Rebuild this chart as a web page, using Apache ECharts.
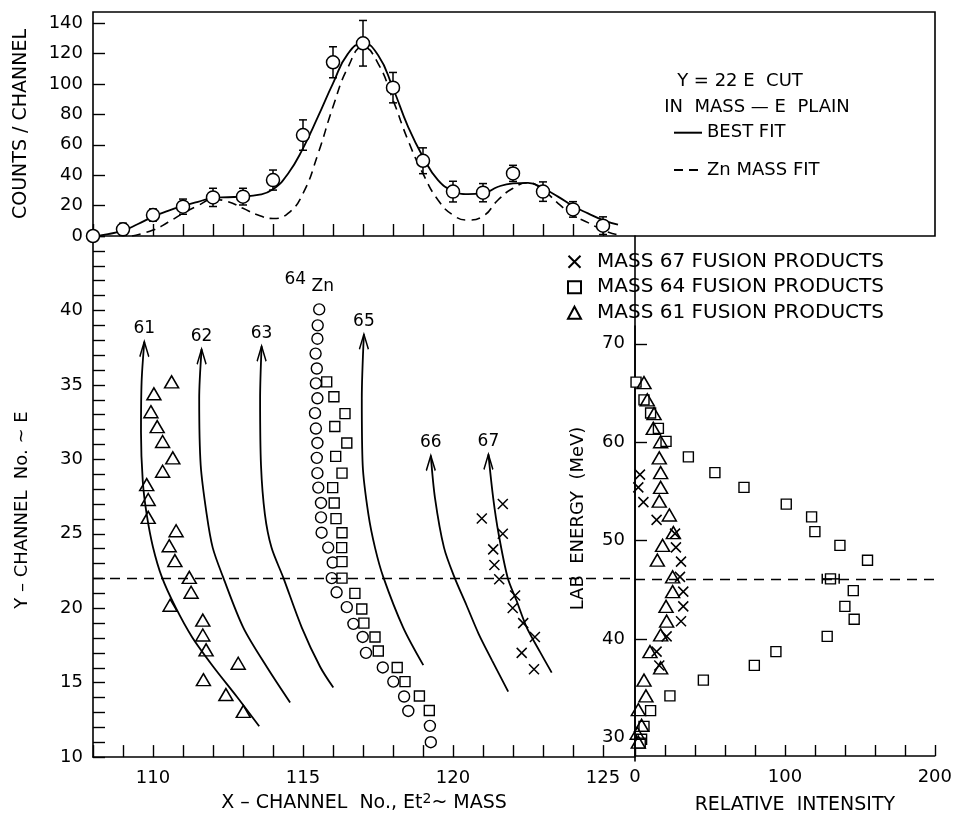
<!DOCTYPE html>
<html>
<head>
<meta charset="utf-8">
<script src="https://cdn.jsdelivr.net/npm/echarts@6/dist/echarts.min.js"></script>
<style>
html, body { margin: 0; padding: 0; background: #fff; }
#chartId { width: 955px; height: 820px; }
</style>
</head>
<body>
<div id="chartId"></div>
<script>
const FONT = "DejaVu Sans";

// ---- top panel: Y = 22 cut, counts per channel
const channels = [108, 109, 110, 111, 112, 113, 114, 115, 116, 117, 118, 119, 120, 121, 122, 123, 124, 125];
const counts   = [0, 4.4, 13.8, 19.3, 25.4, 25.9, 36.8, 66.4, 114.3, 126.8, 97.6, 49.5, 29.2, 28.5, 41.2, 29.2, 17.5, 6.8];
const countErr = [0, 4, 4, 5, 6, 5.5, 6.6, 10, 10.2, 15, 10, 8.5, 6.8, 6, 5.3, 6.4, 5.1, 5.8];

const bestFitX = [108, 108.5, 109, 109.5, 110, 110.5, 111, 111.5, 112, 112.5, 113, 113.5, 114, 114.5, 115, 115.5, 116, 116.5, 117, 117.5, 118, 118.5, 119, 119.5, 120, 120.5, 121, 121.5, 122, 122.5, 123, 123.5, 124, 124.5, 125, 125.5];
const bestFitY = [0, 1.3, 3.5, 7.9, 12.7, 16.5, 19.7, 22.5, 25, 25.5, 26, 27, 30.7, 41, 57.7, 78.5, 100.4, 120, 126.8, 119, 97.2, 72, 52, 36.8, 29.8, 27.6, 28, 32.4, 34.6, 35, 31.4, 25.9, 19.7, 14.9, 10.5, 7.5];

const znFitX = [109.3, 110, 110.5, 111, 111.5, 112, 112.5, 113, 113.5, 114, 114.5, 115, 115.5, 116, 116.5, 117, 117.5, 118, 118.5, 119, 119.5, 120, 120.5, 121, 121.5, 122, 122.5, 123, 123.5, 124, 124.5, 125, 125.5];
const znFitY = [0, 3.9, 9, 14.9, 20, 24, 22.6, 18.2, 13.8, 11.5, 14.9, 28, 54, 85, 111, 124.5, 113.6, 89.5, 63, 41, 23.7, 13.8, 10.5, 13, 23.7, 31.4, 35, 30.3, 21.5, 13.8, 8.8, 3.9, 0.7];

// ---- bottom left: mass - E plane  [x-channel, y-channel]
const curve61 = [[113.54, 12.07], [112.79, 14.07], [112.01, 16.07], [111.3, 18.07], [110.75, 20.07], [110.3, 22.07], [110.0, 24.1], [109.79, 26.3], [109.66, 28.5], [109.6, 31.8], [109.62, 35.2], [109.71, 37.9]];
const curve62 = [[114.57, 13.67], [113.79, 16.07], [113.01, 18.7], [112.34, 22.07], [111.99, 24.07], [111.79, 26.3], [111.59, 29.6], [111.54, 34.07], [111.62, 37.4]];
const curve63 = [[116.01, 14.67], [115.57, 16.07], [114.96, 18.7], [114.34, 22.07], [113.95, 24.07], [113.73, 26.3], [113.6, 29.6], [113.57, 34.07], [113.62, 37.6]];
const curve65 = [[119.01, 16.18], [118.34, 18.7], [117.68, 22.07], [117.4, 24.07], [117.18, 26.3], [116.99, 29.6], [116.96, 34.07], [117.03, 38.4]];
const curve66 = [[121.84, 14.4], [121.3, 16.5], [120.85, 18.3], [120.45, 20.2], [120.05, 22.07], [119.7, 24.07], [119.4, 27.4], [119.26, 30.25]];
const curve67 = [[123.29, 15.67], [122.9, 17.07], [122.46, 18.7], [122.12, 20.5], [121.82, 22.07], [121.52, 25.0], [121.34, 27.4], [121.18, 30.33]];
const curveNames = ["61", "62", "63", "65", "66", "67"];

const zn64 = [[115.54, 40.07], [115.49, 39.0], [115.48, 38.1], [115.42, 37.1], [115.46, 36.1], [115.43, 35.1], [115.48, 34.1], [115.4, 33.1], [115.43, 32.07], [115.48, 31.1], [115.46, 30.1], [115.48, 29.07], [115.51, 28.1], [115.6, 27.07], [115.6, 26.1], [115.62, 25.07], [115.84, 24.07], [115.99, 23.07], [115.96, 22.02], [116.12, 21.07], [116.46, 20.07], [116.68, 18.95], [116.99, 18.07], [117.1, 17.0], [117.66, 16.02], [118.01, 15.07], [118.37, 14.07], [118.51, 13.1], [119.23, 12.1], [119.26, 11.0]];
const mass64 = [[115.79, 35.2], [116.03, 34.2], [116.4, 33.07], [116.06, 32.2], [116.46, 31.1], [116.09, 30.2], [116.3, 29.07], [115.99, 28.1], [116.04, 27.07], [116.1, 26.02], [116.3, 25.07], [116.29, 24.07], [116.3, 23.13], [116.3, 22.02], [116.73, 21.0], [116.96, 19.95], [117.03, 19.0], [117.4, 18.07], [117.51, 17.13], [118.14, 16.02], [118.4, 15.07], [118.88, 14.1], [119.21, 13.13]];
const mass61 = [[110.62, 35.2], [110.03, 34.4], [109.93, 33.2], [110.14, 32.2], [110.32, 31.2], [110.66, 30.1], [110.32, 29.2], [109.79, 28.3], [109.84, 27.3], [109.84, 26.1], [110.77, 25.2], [110.54, 24.2], [110.73, 23.2], [111.21, 22.07], [111.27, 21.07], [110.57, 20.2], [111.66, 19.2], [111.66, 18.2], [111.77, 17.2], [112.84, 16.3], [111.68, 15.2], [112.43, 14.2], [113.01, 13.07]];
const mass67 = [[121.66, 27.0], [120.96, 26.02], [121.66, 25.0], [121.34, 23.95], [121.38, 22.9], [121.54, 21.95], [122.07, 20.85], [121.99, 20.02], [122.34, 19.0], [122.73, 18.07], [122.29, 17.0], [122.7, 15.9]];
const cutY = 22;

// ---- bottom right: relative intensity vs lab energy  [intensity, MeV]
const int64 = [[0.7, 66.1], [6, 64.3], [10.4, 62.96], [15.6, 61.4], [20.7, 60.08], [35.6, 58.5], [53.3, 56.9], [72.7, 55.4], [100.9, 53.7], [117.8, 52.4], [120, 50.9], [136.7, 49.5], [155.1, 48.0], [130.4, 46.1], [145.6, 44.9], [140, 43.3], [146.2, 42.0], [128.2, 40.25], [94, 38.7], [79.6, 37.3], [45.6, 35.8], [23.3, 34.2], [10.4, 32.7], [6, 31.1], [4.4, 29.8], [3.5, 29.4]];
const int61 = [[6, 66.05], [8.2, 64.3], [12.7, 62.9], [12.2, 61.4], [17.1, 60.04], [16.2, 58.4], [17.1, 56.9], [17.1, 55.4], [16.2, 54.0], [22.9, 52.6], [25.6, 50.8], [18.4, 49.5], [14.9, 48.0], [25.1, 46.3], [25.1, 44.8], [20.7, 43.3], [21.1, 41.8], [17.1, 40.4], [10, 38.7], [17.1, 37.05], [6, 35.8], [7.3, 34.2], [2.2, 32.8], [4.4, 31.2], [1.5, 30.4], [2.2, 29.5]];
const int67 = [[3.3, 56.7], [2.2, 55.4], [5.6, 53.9], [14.4, 52.1], [26.7, 50.7], [27.3, 49.3], [30.7, 47.85], [30, 46.3], [32.2, 44.8], [32.2, 43.3], [30.7, 41.8], [21.1, 40.25], [14.4, 38.7], [16.2, 37.3]];
const int64Err = [[130.4, 46.1, 124.9, 136.2]];
const cutMeV = 46.1;

const X_PATH = "path://M0,0L10,10M10,0L0,10";
const ARROW_PATH = "path://M0,10L5,0L10,10";

function errBarV(params, api) {
    var x = api.value(0), y = api.value(1), e = api.value(2);
    var hi = api.coord([x, y + e]);
    var lo = api.coord([x, y - e]);
    var st = { stroke: "#000", lineWidth: 1.5 };
    return { type: "group", children: [
        { type: "line", shape: { x1: hi[0], y1: hi[1], x2: lo[0], y2: lo[1] }, style: st },
        { type: "line", shape: { x1: hi[0] - 4, y1: hi[1], x2: hi[0] + 4, y2: hi[1] }, style: st },
        { type: "line", shape: { x1: lo[0] - 4, y1: lo[1], x2: lo[0] + 4, y2: lo[1] }, style: st }
    ]};
}

function errBarH(params, api) {
    var y = api.value(1);
    var a = api.coord([api.value(2), y]);
    var b = api.coord([api.value(3), y]);
    var st = { stroke: "#000", lineWidth: 1.5 };
    return { type: "group", children: [
        { type: "line", shape: { x1: a[0], y1: a[1], x2: b[0], y2: b[1] }, style: st },
        { type: "line", shape: { x1: a[0], y1: a[1] - 5, x2: a[0], y2: a[1] + 5 }, style: st },
        { type: "line", shape: { x1: b[0], y1: b[1] - 5, x2: b[0], y2: b[1] + 5 }, style: st }
    ]};
}

function arrowCurve(name, pts) {
    var data = pts.map(function (p, i) {
        if (i < pts.length - 1) return { value: p };
        return {
            value: p,
            symbol: ARROW_PATH,
            symbolSize: [9, 15],
            symbolOffset: [0, "50%"],
            itemStyle: { color: "none", borderColor: "#000", borderWidth: 1.8, opacity: 1 },
            label: { show: true, position: "top", distance: 1, formatter: name,
                     color: "#000", fontFamily: FONT, fontSize: 17 }
        };
    });
    return {
        name: "curve " + name, type: "line", xAxisIndex: 1, yAxisIndex: 1,
        smooth: 0.3, symbol: "none", showSymbol: true, clip: false,
        lineStyle: { color: "#000", width: 1.8 },
        data: data
    };
}

const tickLabel = { color: "#000", fontFamily: FONT, fontSize: 18 };
const axisLine = { show: true, lineStyle: { color: "#000", width: 1.6 } };
const tickStyle = { color: "#000", width: 1.4 };
const nameStyle = { color: "#000", fontFamily: FONT, fontSize: 18 };
const openMark = { color: "#fff", borderColor: "#000", borderWidth: 1.4, opacity: 1 };
const hollowMark = { color: "transparent", borderColor: "#000", borderWidth: 1.5, opacity: 1 };

function range(a, b, s) { var r = []; for (var v = a; v <= b; v += s) r.push(v); return r; }

var chart = echarts.init(document.getElementById("chartId"));

var option = {
    animation: false,
    backgroundColor: "#fff",
    grid: [
        { left: 93, top: 12, width: 842, height: 224, show: true, borderColor: "#000", borderWidth: 1.6, backgroundColor: "transparent" },
        { left: 93, top: 236, width: 542, height: 525 },
        { left: 635, top: 326, width: 300, height: 435 },
        { left: 635, top: 236, width: 300, height: 525 }
    ],
    legend: [
        {
            data: ["BEST FIT", "Zn MASS FIT"],
            orient: "vertical", left: 673, top: 122.7, padding: 0,
            itemWidth: 28, itemHeight: 14, itemGap: 17.3,
            selectedMode: false,
            itemStyle: { color: "transparent", borderColor: "transparent", borderWidth: 0 },
            textStyle: { color: "#000", fontFamily: FONT, fontSize: 18, lineHeight: 20 }
        },
        {
            data: ["MASS 67 FUSION PRODUCTS", "MASS 64 FUSION PRODUCTS", "MASS 61 FUSION PRODUCTS"],
            orient: "vertical", left: 567, top: 251.7, padding: 0,
            itemWidth: 13, itemHeight: 12, itemGap: 5.5,
            selectedMode: false,
            textStyle: { color: "#000", fontFamily: FONT, fontSize: 20, lineHeight: 20, padding: [0, 0, 0, 11] }
        }
    ],
    graphic: [
        { type: "text", x: 740, y: 81, style: { text: "Y = 22 E  CUT", font: "18px " + FONT, fill: "#000", textAlign: "center", textVerticalAlign: "middle" } },
        { type: "text", x: 757, y: 107, style: { text: "IN  MASS — E  PLAIN", font: "18px " + FONT, fill: "#000", textAlign: "center", textVerticalAlign: "middle" } }
    ],
    xAxis: [
        { gridIndex: 0, type: "value", min: 108, max: 108 + 842 / 30,
          axisLine: { show: false }, splitLine: { show: false },
          axisTick: { inside: true, length: 12, lineStyle: tickStyle, customValues: channels },
          axisLabel: { show: false } },
        { gridIndex: 1, type: "value", min: 108, max: 108 + 542 / 30,
          axisLine: axisLine, splitLine: { show: false },
          axisTick: { inside: true, length: 12, lineStyle: tickStyle, customValues: channels },
          axisLabel: Object.assign({ margin: 12, customValues: [110, 115, 120, 125] }, tickLabel),
          name: "X – CHANNEL  No., Et{sup|2}~ MASS", nameLocation: "middle", nameGap: 35,
          nameTextStyle: { color: "#000", fontFamily: FONT, fontSize: 19, lineHeight: 22, verticalAlign: "top",
                           rich: { sup: { color: "#000", fontFamily: FONT, fontSize: 14, lineHeight: 22, padding: [0, 0, 9, 0] } } } },
        { gridIndex: 2, type: "value", min: 0, max: 200, interval: 20,
          axisLine: axisLine, splitLine: { show: false },
          axisTick: { inside: true, length: 11, lineStyle: tickStyle },
          axisLabel: Object.assign({ margin: 12, customValues: [0, 100, 200] }, tickLabel),
          name: "RELATIVE  INTENSITY", nameLocation: "middle", nameGap: 40,
          nameTextStyle: { color: "#000", fontFamily: FONT, fontSize: 19, padding: [0, 0, 0, 20] } },
        { gridIndex: 3, type: "value", show: false }
    ],
    yAxis: [
        { gridIndex: 0, type: "value", min: 0, max: 224 / 1.52,
          axisLine: { show: false }, splitLine: { show: false },
          axisTick: { inside: true, length: 12, lineStyle: tickStyle, customValues: range(0, 140, 20) },
          axisLabel: Object.assign({ margin: 10, customValues: range(0, 140, 20) }, tickLabel),
          name: "COUNTS / CHANNEL", nameLocation: "middle", nameGap: 62, nameRotate: 90,
          nameTextStyle: { color: "#000", fontFamily: FONT, fontSize: 19 } },
        { gridIndex: 1, type: "value", min: 10, max: 45, interval: 1,
          axisLine: axisLine, splitLine: { show: false },
          axisTick: { inside: true, length: 12, lineStyle: tickStyle },
          axisLabel: Object.assign({ margin: 10, customValues: range(10, 40, 5) }, tickLabel),
          name: "Y – CHANNEL  No. ~ E", nameLocation: "middle", nameGap: 62, nameRotate: 90,
          nameTextStyle: Object.assign({ padding: [0, 27, 0, 0] }, nameStyle) },
        { gridIndex: 2, type: "value", min: 30 - 19 / 9.95, max: 30 - 19 / 9.95 + 435 / 9.95,
          axisLine: axisLine, splitLine: { show: false },
          axisTick: { inside: true, length: 12, lineStyle: tickStyle, customValues: [30, 40, 50, 60, 70] },
          axisLabel: Object.assign({ margin: 10, customValues: [30, 40, 50, 60, 70] }, tickLabel),
          name: "LAB  ENERGY  (MeV)", nameLocation: "middle", nameGap: 48, nameRotate: 90,
          nameTextStyle: Object.assign({ padding: [0, 0, 0, 45] }, nameStyle) },
        { gridIndex: 3, type: "value", position: "right", min: 0, max: 1,
          axisLine: axisLine, axisTick: { show: false }, axisLabel: { show: false }, splitLine: { show: false } }
    ],
    series: [
        // top panel
        { name: "BEST FIT", type: "line", xAxisIndex: 0, yAxisIndex: 0, smooth: 0.5, symbol: "none",
          lineStyle: { color: "#000", width: 1.8 }, data: bestFitX.map(function (x, i) { return [x, bestFitY[i]]; }) },
        { name: "Zn MASS FIT", type: "line", xAxisIndex: 0, yAxisIndex: 0, smooth: 0.5, symbol: "none",
          lineStyle: { color: "#000", width: 1.6, type: [9, 6] }, data: znFitX.map(function (x, i) { return [x, znFitY[i]]; }) },
        { name: "count errors", type: "custom", xAxisIndex: 0, yAxisIndex: 0, renderItem: errBarV, z: 3,
          data: channels.map(function (c, i) { return [c, counts[i], countErr[i]]; }).filter(function (d) { return d[2] > 0; }) },
        { name: "counts", type: "scatter", xAxisIndex: 0, yAxisIndex: 0, symbol: "circle", symbolSize: 13, clip: false, z: 4,
          itemStyle: { color: "#fff", borderColor: "#000", borderWidth: 1.5, opacity: 1 },
          data: channels.map(function (c, i) { return [c, counts[i]]; }) },

        // bottom left curves
        arrowCurve(curveNames[0], curve61),
        arrowCurve(curveNames[1], curve62),
        arrowCurve(curveNames[2], curve63),
        arrowCurve(curveNames[3], curve65),
        arrowCurve(curveNames[4], curve66),
        arrowCurve(curveNames[5], curve67),
        { name: "64Zn", type: "scatter", xAxisIndex: 1, yAxisIndex: 1, symbol: "circle", symbolSize: 11, z: 4,
          itemStyle: openMark,
          data: zn64.map(function (p, i) {
              if (i > 0) return p;
              return { value: p, label: { show: true, position: "top", distance: 8, offset: [-10, 0],
                  formatter: "{a|64}{b| Zn}", color: "#000",
                  rich: { a: { color: "#000", fontFamily: FONT, fontSize: 17, verticalAlign: "top", lineHeight: 24 },
                          b: { color: "#000", fontFamily: FONT, fontSize: 17, verticalAlign: "bottom", lineHeight: 24 } } } };
          }),
          markLine: { silent: true, symbol: "none", label: { show: false },
                      lineStyle: { color: "#000", width: 1.4, type: [10, 7] }, data: [{ yAxis: cutY }] } },
        { name: "MASS 64 FUSION PRODUCTS", type: "scatter", xAxisIndex: 1, yAxisIndex: 1, symbol: "rect", symbolSize: 10, z: 4,
          itemStyle: openMark, data: mass64 },
        { name: "MASS 61 FUSION PRODUCTS", type: "scatter", xAxisIndex: 1, yAxisIndex: 1, symbol: "triangle", symbolSize: [14, 12], z: 4,
          itemStyle: hollowMark, data: mass61 },
        { name: "MASS 67 FUSION PRODUCTS", type: "scatter", xAxisIndex: 1, yAxisIndex: 1, symbol: X_PATH, symbolSize: 10, z: 4,
          itemStyle: hollowMark, data: mass67 },

        // bottom right
        { name: "MASS 64 FUSION PRODUCTS", type: "scatter", xAxisIndex: 2, yAxisIndex: 2, symbol: "rect", symbolSize: 10, z: 4, clip: false,
          itemStyle: openMark, data: int64,
          markLine: { silent: true, symbol: "none", label: { show: false },
                      lineStyle: { color: "#000", width: 1.4, type: [10, 7] }, data: [{ yAxis: cutMeV }] } },
        { name: "MASS 61 FUSION PRODUCTS", type: "scatter", xAxisIndex: 2, yAxisIndex: 2, symbol: "triangle", symbolSize: [14, 12], z: 4, clip: false,
          itemStyle: hollowMark, data: int61 },
        { name: "MASS 67 FUSION PRODUCTS", type: "scatter", xAxisIndex: 2, yAxisIndex: 2, symbol: X_PATH, symbolSize: 10, z: 4, clip: false,
          itemStyle: hollowMark, data: int67 },
        { name: "intensity error", type: "custom", xAxisIndex: 2, yAxisIndex: 2, renderItem: errBarH, z: 5, data: int64Err }
    ]
};

chart.setOption(option);
</script>
</body>
</html>
